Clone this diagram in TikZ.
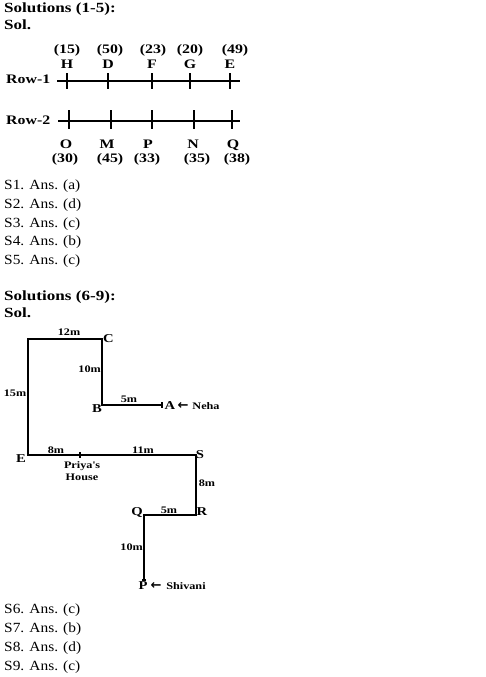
\documentclass[tikz,border=0pt]{standalone}
\usepackage{fontspec}
\setmainfont{Liberation Serif}[FakeStretch=1.1,BoldFeatures={FakeStretch=1.22}]
\newfontfamily\arrowfont{DejaVu Sans}
\begin{document}
\begin{tikzpicture}[x=1pt,y=-1pt]
    \tikzstyle{every node}+=[inner sep=0pt]
    \tikzset{head/.style={anchor=base west,font=\fontsize{14}{17}\selectfont\bfseries},
        ans/.style={anchor=base west,font=\fontsize{14}{17}\selectfont},
        lbl/.style={anchor=base,font=\fontsize{13}{15}\selectfont\bfseries},
        pt/.style={font=\fontsize{12}{14}\selectfont\bfseries},
        dist/.style={font=\fontsize{10}{12}\selectfont\bfseries},
        pointer/.style={font=\fontsize{13}{14}\arrowfont\bfseries},
        road/.style={black,line width=1.2pt}}
    \useasboundingbox (0,0) rectangle (486,677);
    \node [head] (sol1) at (4,13) {Solutions (1-5):};
    \node [head] (sl1) at (4,30) {Sol.};
    \node [lbl,anchor=base west] (row1) at (6,84) {Row-1};
    \coordinate (r1a) at (57,81);
    \coordinate (r1b) at (240,81);
    \draw [road] (r1a) -- (r1b);
    \coordinate (tH) at (67,81);
    \coordinate (tD) at (108,81);
    \coordinate (tF) at (152,81);
    \coordinate (tG) at (190,81);
    \coordinate (tE) at (230,81);
    \draw [road] (tH) ++(0,-8) -- ++(0,16);
    \draw [road] (tD) ++(0,-8) -- ++(0,16);
    \draw [road] (tF) ++(0,-8) -- ++(0,16);
    \draw [road] (tG) ++(0,-8) -- ++(0,16);
    \draw [road] (tE) ++(0,-8) -- ++(0,16);
    \node [lbl] (H) at (67,68) {H};
    \node [lbl] (D) at (108,68) {D};
    \node [lbl] (F) at (152,68) {F};
    \node [lbl] (G) at (190,68) {G};
    \node [lbl] (E) at (230,68) {E};
    \node [lbl] (nH) at (67,53) {(15)};
    \node [lbl] (nD) at (110,53) {(50)};
    \node [lbl] (nF) at (153,53) {(23)};
    \node [lbl] (nG) at (190,53) {(20)};
    \node [lbl] (nE) at (235,53) {(49)};
    \node [lbl,anchor=base west] (row2) at (6,124) {Row-2};
    \coordinate (r2a) at (58,121);
    \coordinate (r2b) at (240,121);
    \draw [road] (r2a) -- (r2b);
    \coordinate (tO) at (69,121);
    \coordinate (tM) at (111,121);
    \coordinate (tP) at (152,121);
    \coordinate (tN) at (194,121);
    \coordinate (tQ) at (232,121);
    \draw [road] (tO) ++(0,-11) -- ++(0,19);
    \draw [road] (tM) ++(0,-11) -- ++(0,19);
    \draw [road] (tP) ++(0,-11) -- ++(0,19);
    \draw [road] (tN) ++(0,-11) -- ++(0,19);
    \draw [road] (tQ) ++(0,-11) -- ++(0,19);
    \node [lbl] (O) at (66,148) {O};
    \node [lbl] (M) at (107,148) {M};
    \node [lbl] (P) at (148,148) {P};
    \node [lbl] (N) at (193,148) {N};
    \node [lbl] (Q) at (233,148) {Q};
    \node [lbl] (nO) at (65,162) {(30)};
    \node [lbl] (nM) at (110,162) {(45)};
    \node [lbl] (nP) at (147,162) {(33)};
    \node [lbl] (nN) at (197,162) {(35)};
    \node [lbl] (nQ) at (237,162) {(38)};
    \node [ans] (s1) at (4,189) {S1. Ans. (a)};
    \node [ans] (s2) at (4,208) {S2. Ans. (d)};
    \node [ans] (s3) at (4,227) {S3. Ans. (c)};
    \node [ans] (s4) at (4,245) {S4. Ans. (b)};
    \node [ans] (s5) at (4,264) {S5. Ans. (c)};
    \node [head] (sol2) at (4,300) {Solutions (6-9):};
    \node [head] (sl2) at (4,317) {Sol.};
    \coordinate (cA) at (162,405);
    \coordinate (cB) at (102,405);
    \coordinate (cC) at (102,339);
    \coordinate (cT) at (28,339);
    \coordinate (cE) at (28,455);
    \coordinate (cH) at (80,455);
    \coordinate (cS) at (196,455);
    \coordinate (cR) at (196,515);
    \coordinate (cQ) at (144,515);
    \coordinate (cP) at (144,580);
    \draw [road] (cA) -- (cB) -- (cC) -- (cT) -- (cE) -- (cS) -- (cR) -- (cQ) -- (cP);
    \draw [road] (cA) ++(0,-3) -- ++(0,6);
    \draw [road] (cH) ++(0,-3) -- ++(0,6);
    \draw [road] (cP) ++(-2,0) -- ++(4,0);
    \node [pt,anchor=west] (C) at (103,339) {C};
    \node [pt] (B) at (97,409) {B};
    \node [pt] (A) at (170,406) {A};
    \node [pointer] (arA) at (183,406) {←};
    \node [dist] (neha) at (206,406) {Neha};
    \node [pt] (E2) at (21,459) {E};
    \node [pt] (S) at (200,455) {S};
    \node [pt] (R) at (202,512) {R};
    \node [pt] (Q2) at (137,512) {Q};
    \node [pt] (P2) at (143,586) {P};
    \node [pointer] (arP) at (156,586) {←};
    \node [dist] (shiv) at (186,586) {Shivani};
    \node [dist] (d12) at (69,332) {12m};
    \node [dist,anchor=east] (d10a) at (101,369) {10m};
    \node [dist] (d15) at (15,393) {15m};
    \node [dist] (d5a) at (129,399) {5m};
    \node [dist] (d8a) at (56,450) {8m};
    \node [dist] (d11) at (143,450) {11m};
    \node [dist] (d8b) at (207,483) {8m};
    \node [dist] (d5b) at (169,510) {5m};
    \node [dist,anchor=east] (d10b) at (143,547) {10m};
    \node [dist,align=center] (house) at (82,471) {Priya\textquotesingle s\\House};
    \node [ans] (s6) at (4,613) {S6. Ans. (c)};
    \node [ans] (s7) at (4,632) {S7. Ans. (b)};
    \node [ans] (s8) at (4,651) {S8. Ans. (d)};
    \node [ans] (s9) at (4,670) {S9. Ans. (c)};
\end{tikzpicture}
\end{document}
